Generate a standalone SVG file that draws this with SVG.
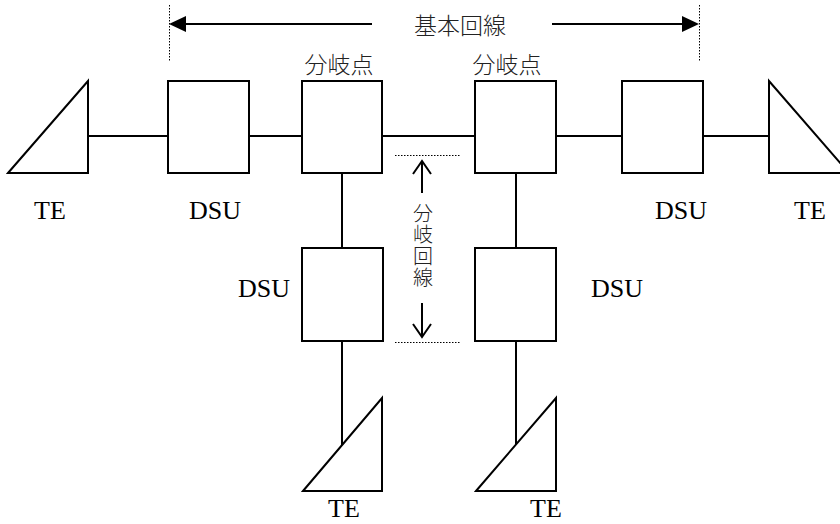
<svg xmlns="http://www.w3.org/2000/svg" width="840" height="524" viewBox="0 0 840 524">
<style>
.box{fill:#fff;stroke:#000;stroke-width:2}
.te{fill:#fff;stroke:#000;stroke-width:2;stroke-linejoin:miter}
.ln{stroke:#000;stroke-width:2;fill:none}
.dot{stroke:#000;stroke-width:1;stroke-dasharray:1.5 1.5;fill:none}
.lat{font-family:"Liberation Serif","Times New Roman",serif;font-size:26px;fill:#000}
.jp{font-family:"Noto Sans CJK JP","Noto Sans",sans-serif;font-size:23px;fill:#222;font-weight:300}
.jpv{font-family:"Noto Sans CJK JP","Noto Sans",sans-serif;font-size:20px;fill:#222;font-weight:300;writing-mode:vertical-rl;letter-spacing:1.5px}
</style>
<rect width="840" height="524" fill="#fff"/>
<g id="connectors">
<line class="ln" x1="88" y1="136" x2="168" y2="136"/>
<line class="ln" x1="249" y1="136" x2="302" y2="136"/>
<line class="ln" x1="382" y1="136" x2="475" y2="136"/>
<line class="ln" x1="556" y1="136" x2="622" y2="136"/>
<line class="ln" x1="703" y1="136" x2="769" y2="136"/>
<line class="ln" x1="342" y1="173" x2="342" y2="248"/>
<line class="ln" x1="342" y1="341" x2="342" y2="445"/>
<line class="ln" x1="516" y1="173" x2="516" y2="248"/>
<line class="ln" x1="516" y1="341" x2="516" y2="445"/>
</g>
<g id="te-left">
<polygon class="te" points="8,173 88,81 88,173"/>
<text class="lat" x="50" y="219" text-anchor="middle">TE</text>
</g>
<g id="dsu-left">
<rect class="box" x="168" y="81" width="81" height="92"/>
<text class="lat" x="215" y="219" text-anchor="middle">DSU</text>
</g>
<g id="branch-left">
<rect class="box" x="302" y="81" width="80" height="92"/>
<text class="jp" x="339" y="73" text-anchor="middle">分岐点</text>
</g>
<g id="branch-right">
<rect class="box" x="475" y="81" width="81" height="92"/>
<text class="jp" x="507" y="73" text-anchor="middle">分岐点</text>
</g>
<g id="dsu-right">
<rect class="box" x="622" y="81" width="81" height="92"/>
<text class="lat" x="681" y="219" text-anchor="middle">DSU</text>
</g>
<g id="te-right">
<polygon class="te" points="769,81 769,173 849,173"/>
<text class="lat" x="810" y="219" text-anchor="middle">TE</text>
</g>
<g id="dsu-lower-left">
<rect class="box" x="302" y="248" width="81" height="93"/>
<text class="lat" x="264" y="297" text-anchor="middle">DSU</text>
</g>
<g id="dsu-lower-right">
<rect class="box" x="475" y="248" width="81" height="93"/>
<text class="lat" x="617" y="297" text-anchor="middle">DSU</text>
</g>
<g id="te-lower-left">
<polygon class="te" points="303,491 382,398 382,491"/>
<text class="lat" x="344" y="517" text-anchor="middle">TE</text>
</g>
<g id="te-lower-right">
<polygon class="te" points="476,491 556,398 556,491"/>
<text class="lat" x="546" y="517" text-anchor="middle">TE</text>
</g>
<g id="basic-line-label">
<line class="dot" x1="169.5" y1="5" x2="169.5" y2="62"/>
<line class="dot" x1="699.5" y1="5" x2="699.5" y2="62"/>
<line class="ln" x1="184" y1="24" x2="372" y2="24"/>
<polygon points="169,24 186,16 186,32" fill="#000"/>
<line class="ln" x1="552" y1="24" x2="684" y2="24"/>
<polygon points="699,24 682,16 682,32" fill="#000"/>
<text class="jp" x="460" y="34" text-anchor="middle">基本回線</text>
</g>
<g id="branch-line-label">
<line class="dot" x1="395" y1="155.5" x2="461" y2="155.5"/>
<line class="dot" x1="395" y1="342.5" x2="461" y2="342.5"/>
<line class="ln" x1="422" y1="161" x2="422" y2="193"/>
<polyline class="ln" points="413,174 422,161 431,174"/>
<line class="ln" x1="422" y1="303" x2="422" y2="337"/>
<polyline class="ln" points="413,324 422,337 431,324"/>
<text class="jpv" x="423" y="203">分岐回線</text>
</g>
</svg>
